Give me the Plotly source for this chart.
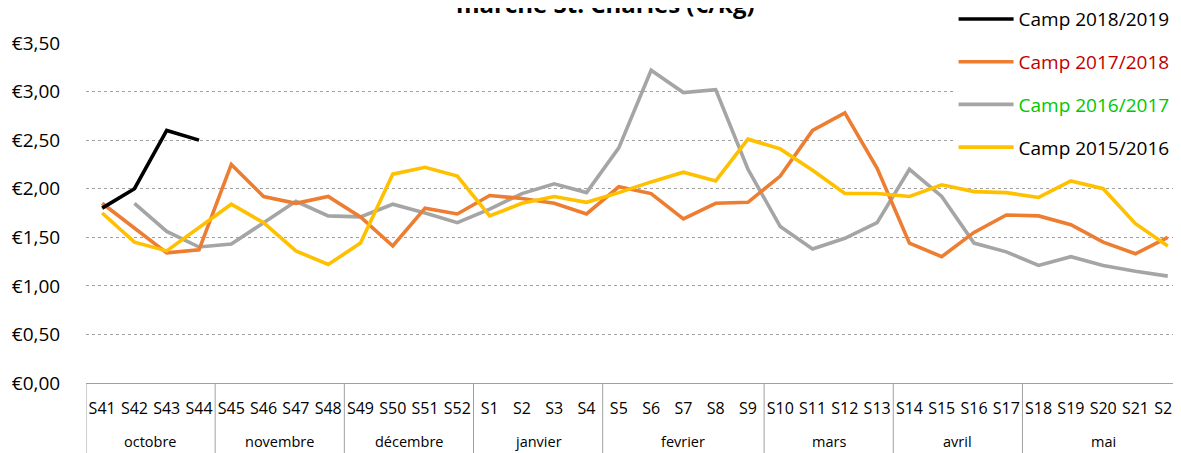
import plotly.graph_objects as go

months = (["octobre"] * 4 + ["novembre"] * 4 + ["décembre"] * 4 + ["janvier"] * 4
          + ["fevrier"] * 5 + ["mars"] * 4 + ["avril"] * 4 + ["mai"] * 5)
weeks = ["S41", "S42", "S43", "S44", "S45", "S46", "S47", "S48", "S49", "S50", "S51", "S52",
         "S1", "S2", "S3", "S4", "S5", "S6", "S7", "S8", "S9", "S10", "S11", "S12", "S13",
         "S14", "S15", "S16", "S17", "S18", "S19", "S20", "S21", "S22"]

y_tick_values = [0, 0.5, 1, 1.5, 2, 2.5, 3, 3.5]
y_tick_labels = ["€0,00", "€0,50", "€1,00", "€1,50", "€2,00", "€2,50", "€3,00", "€3,50"]

camp_2018_2019 = [1.80, 2.00, 2.60, 2.50] + [None] * 30
camp_2017_2018 = [1.85, 1.60, 1.34, 1.37, 2.25, 1.92, 1.85, 1.92, 1.71, 1.41, 1.80, 1.74,
                  1.93, 1.90, 1.85, 1.74, 2.02, 1.95, 1.69, 1.85, 1.86, 2.13, 2.60, 2.78, 2.21,
                  1.44, 1.30, 1.55, 1.73, 1.72, 1.63, 1.45, 1.33, 1.50]
camp_2016_2017 = [None, 1.85, 1.56, 1.40, 1.43, 1.65, 1.87, 1.72, 1.71, 1.84, 1.75, 1.65,
                  1.79, 1.95, 2.05, 1.96, 2.42, 3.22, 2.99, 3.02, 2.20, 1.61, 1.38, 1.49, 1.65,
                  2.20, 1.92, 1.44, 1.35, 1.21, 1.30, 1.21, 1.15, 1.10]
camp_2015_2016 = [1.75, 1.45, 1.36, 1.60, 1.84, 1.65, 1.36, 1.22, 1.44, 2.15, 2.22, 2.13,
                  1.72, 1.85, 1.92, 1.86, 1.96, 2.07, 2.17, 2.08, 2.51, 2.41, 2.19, 1.95, 1.95,
                  1.92, 2.04, 1.97, 1.96, 1.91, 2.08, 2.00, 1.64, 1.41]

series = [
    # (values, name, line colour, legend text colour, legend rank)
    (camp_2016_2017, "Camp 2016/2017", "#A5A5A5", "#00C800", 3),
    (camp_2017_2018, "Camp 2017/2018", "#ED7D31", "#C00000", 2),
    (camp_2015_2016, "Camp 2015/2016", "#FFC000", "#000000", 4),
    (camp_2018_2019, "Camp 2018/2019", "#000000", "#000000", 1),
]

FONT = "Open Sans"
AXIS_GREY = "#A0A0A0"
fig = go.Figure()
for vals, name, col, tcol, rank in series:
    fig.add_trace(go.Scatter(
        x=weeks, y=vals, mode="lines",
        name=f"<span style='color:{tcol}'>{name}</span>",
        line=dict(color=col, width=3.6),
        connectgaps=False, legendgroup=name, legendrank=rank,
    ))

# month groups: label under the weeks, divider lines between groups
groups = []
for i, m in enumerate(months):
    if not groups or groups[-1][0] != m:
        groups.append([m, i, i])
    else:
        groups[-1][2] = i
for m, start, end in groups:
    fig.add_annotation(text=m, x=(start + end) / 2, xref="x", y=-0.1735, yref="paper",
                       xanchor="center", yanchor="middle", showarrow=False,
                       font=dict(family=FONT, size=14.5, color="#000000"))
    fig.add_shape(type="line", xref="x", yref="paper", x0=start - 0.5, x1=start - 0.5,
                  y0=0, y1=-0.25, line=dict(color=AXIS_GREY, width=1))

fig.add_annotation(text="<b>marche St. Charles (€/kg)</b>", x=0.4745, xref="paper",
                   xanchor="center", y=1.117, yref="paper", yanchor="middle",
                   showarrow=False, font=dict(family=FONT, size=24, color="#000000"))

fig.update_layout(
    width=1173, height=445,
    margin=dict(l=78, r=0, t=35, b=70, autoexpand=False),
    paper_bgcolor="white", plot_bgcolor="white",
    font=dict(family=FONT, color="#000000"),
    legend=dict(x=0.7923, xanchor="left", y=1.126, yanchor="top",
                bgcolor="white", font=dict(family=FONT, size=19),
                traceorder="grouped", tracegroupgap=15, itemwidth=55),
    xaxis=dict(type="category", range=[-0.5, 33.41], showgrid=False,
               showline=True, linecolor=AXIS_GREY, linewidth=1,
               ticks="outside", ticklen=11, tickcolor="rgba(0,0,0,0)", tickangle=0,
               ticklabeloverflow="allow",
               tickfont=dict(family=FONT, size=16, color="#000000")),
    yaxis=dict(range=[0, 3.5], tickvals=y_tick_values, ticktext=y_tick_labels,
               showgrid=True, gridcolor=AXIS_GREY,
               griddash="dot", gridwidth=1, zeroline=False, showline=False,
               ticks="outside", ticklen=21, tickcolor="rgba(0,0,0,0)",
               tickfont=dict(family=FONT, size=19, color="#000000")),
)

fig.write_html("out.html")
